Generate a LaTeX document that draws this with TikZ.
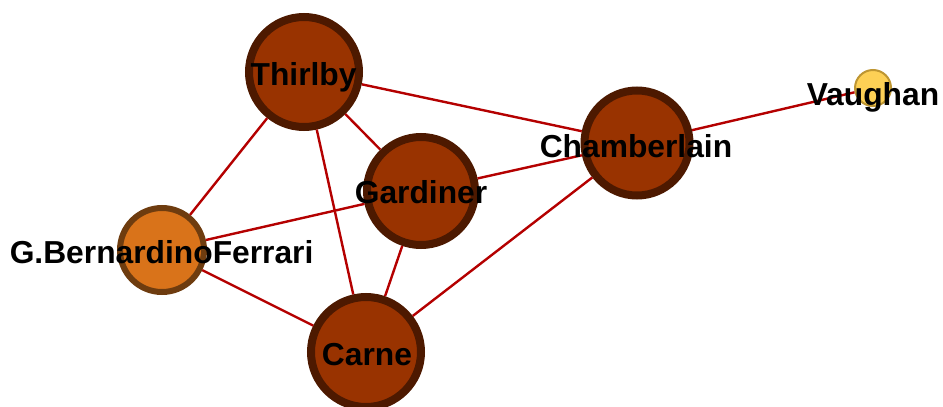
\documentclass[tikz,border=0pt]{standalone}
\usepackage{fontspec}
\setmainfont{Liberation Sans}
\usepackage{tikz}
\definecolor{nodefill}{RGB}{153,51,0}
\definecolor{nodeline}{RGB}{77,25,0}
\definecolor{midfill}{RGB}{217,115,26}
\definecolor{midline}{RGB}{110,60,15}
\definecolor{smallfill}{RGB}{253,208,85}
\definecolor{smallline}{RGB}{190,150,50}
\definecolor{edgered}{RGB}{180,0,0}

\begin{document}
\begin{tikzpicture}[
		bignode/.style = {draw = nodeline, fill = nodefill, circle, line width = 0.2cm, inner sep = 0pt},
		midnode/.style = {draw = midline, fill = midfill, circle, line width = 0.15cm, inner sep = 0pt, minimum size = 2.1cm},
		smallnode/.style = {draw = smallline, fill = smallfill, circle, line width = 0.05cm, inner sep = 0pt, minimum size = 0.9cm},
		edge/.style = {line width = 0.06cm, color = edgered},
		lbl/.style = {inner sep = 0pt, text height = 0.72em, text depth = 0pt, font = \fontsize{22.6}{26}\selectfont\bfseries}
	]
		\useasboundingbox (0,0) rectangle (23.575,10.15);

		\node[bignode, minimum size = 2.75cm] (thirlby) at (7.6,8.35) {};
		\node[bignode, minimum size = 2.7cm] (gardiner) at (10.525,5.375) {};
		\node[bignode, minimum size = 2.625cm] (chamberlain) at (15.925,6.575) {};
		\node[bignode, minimum size = 2.75cm] (carne) at (9.15,1.35) {};
		\node[midnode] (ferrari) at (4.05,3.9) {};
		\node[smallnode] (vaughan) at (21.825,7.95) {};

		\draw[edge] (thirlby) -- (chamberlain);
		\draw[edge] (thirlby) -- (gardiner);
		\draw[edge] (thirlby) -- (carne);
		\draw[edge] (thirlby) -- (ferrari);
		\draw[edge] (gardiner) -- (chamberlain);
		\draw[edge] (gardiner) -- (ferrari);
		\draw[edge] (gardiner) -- (carne);
		\draw[edge] (chamberlain) -- (carne);
		\draw[edge] (ferrari) -- (carne);
		\draw[edge] (chamberlain) -- (vaughan);

		\node[lbl] (thirlby-l) at (7.59,8.13) {Thirlby};
		\node[lbl] (gardiner-l) at (10.525,5.18) {Gardiner};
		\node[lbl] (chamberlain-l) at (15.9,6.33) {Chamberlain};
		\node[lbl] (carne-l) at (9.175,1.15) {Carne};
		\node[lbl] (ferrari-l) at (4.04,3.7) {G.BernardinoFerrari};
		\node[lbl] (vaughan-l) at (21.825,7.63) {Vaughan};
	\end{tikzpicture}
\end{document}
